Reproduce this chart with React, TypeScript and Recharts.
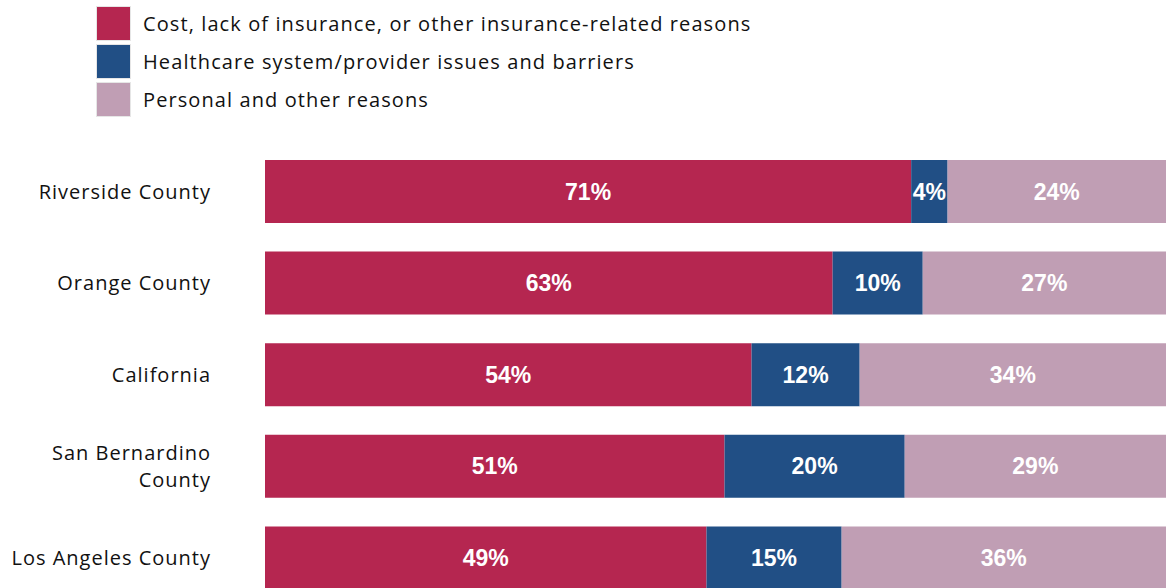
import { BarChart, Bar, XAxis, YAxis, LabelList } from "recharts";

const regions = [
  "Riverside County",
  "Orange County",
  "California",
  "San Bernardino County",
  "Los Angeles County",
];
const costValues = [71, 63, 54, 51, 49];
const systemValues = [4, 10, 12, 20, 15];
const personalValues = [24, 27, 34, 29, 36];

const seriesNames = [
  "Cost, lack of insurance, or other insurance-related reasons",
  "Healthcare system/provider issues and barriers",
  "Personal and other reasons",
];
const seriesColors = ["#B52650", "#214F85", "#C09EB4"];

// two-line label for the long one
const tickLines: Record<string, string[]> = {
  "San Bernardino County": ["San Bernardino", "County"],
};

const data = regions.map((region, i) => ({
  region,
  cost: costValues[i],
  system: systemValues[i],
  personal: personalValues[i],
}));

const FONT = "'Open Sans', sans-serif";

// eslint-disable-next-line @typescript-eslint/no-explicit-any
const RegionTick = (props: any) => {
  const { x, y, payload } = props;
  const lines = tickLines[payload.value] ?? [payload.value];
  const lh = 27;
  const start = -((lines.length - 1) * lh) / 2;
  return (
    <g>
      {lines.map((l, i) => (
        <text
          key={l}
          x={x}
          y={y + start + i * lh + 7}
          textAnchor="end"
          fill="#111"
          fontSize={20}
          letterSpacing={1}
          fontFamily={FONT}
        >
          {l}
        </text>
      ))}
    </g>
  );
};

const keys = ["cost", "system", "personal"];

export default function App() {
  return (
    <div style={{ position: "absolute", top: 0, left: 0, width: 1166, height: 588, overflow: "hidden" }}>
      {/* legend */}
      <div style={{ position: "absolute", left: 96, top: 4, fontFamily: FONT }}>
        {seriesNames.map((name, i) => (
          <div key={name} style={{ display: "flex", alignItems: "center", height: 38 }}>
            <div
              style={{
                width: 33,
                height: 33,
                background: seriesColors[i],
                border: "1px solid #e6e6e6",
                marginRight: 12,
              }}
            />
            <span style={{ fontSize: 20, letterSpacing: 1.1, color: "#111", whiteSpace: "nowrap" }}>{name}</span>
          </div>
        ))}
      </div>

      <BarChart
        width={1166}
        height={604}
        data={data}
        layout="vertical"
        stackOffset="expand"
        barCategoryGap={28}
        margin={{ top: 146, right: 0, left: 0, bottom: 0 }}
      >
        <XAxis type="number" hide domain={[0, 1]} />
        <YAxis
          type="category"
          dataKey="region"
          width={265}
          axisLine={false}
          tickLine={false}
          tickSize={0}
          tickMargin={54}
          tick={<RegionTick />}
        />
        {keys.map((k, i) => (
          <Bar
            key={k}
            dataKey={k}
            stackId="a"
            fill={seriesColors[i]}
            barSize={63}
            isAnimationActive={false}
          >
            <LabelList
              dataKey={k}
              position="center"
              formatter={(v: number) => `${v}%`}
              fill="#fff"
              fontSize={23}
              fontWeight="bold"
              fontFamily="'Liberation Sans', Arial, sans-serif"
            />
          </Bar>
        ))}
      </BarChart>
    </div>
  );
}
